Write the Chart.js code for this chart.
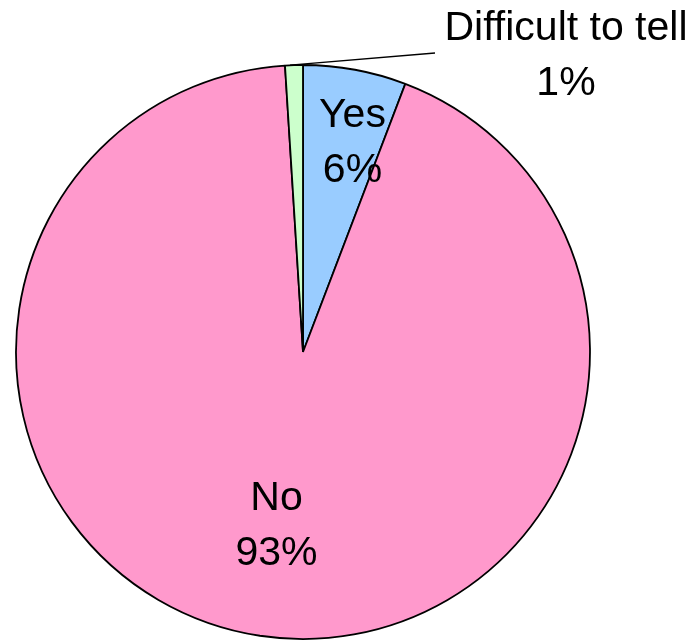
<!DOCTYPE html>
<html>
<head>
<meta charset="utf-8">
<script src="https://cdn.jsdelivr.net/npm/chart.js@4.4.0/dist/chart.umd.min.js"></script>
<style>
  html, body { margin: 0; padding: 0; background: #ffffff; }
  #wrap { width: 695px; height: 640px; position: relative; }
</style>
</head>
<body>
<div id="wrap"><canvas id="c" width="695" height="640"></canvas></div>
<script>
// ---- data ----
const categories = ["Yes", "No", "Difficult to tell"];
const shares = [5.8, 93.2, 1.0];
const percentLabels = ["6%", "93%", "1%"];
const sliceColors = ["#99CCFF", "#FF99CC", "#CCFFCC"];

// label placement (style, not data)
const labelPlacement = [
  { inside: true, frac: 0.74, dx: 11, dy: 0 },
  { inside: true, frac: 0.615, dx: 0, dy: 0 },
  { inside: false, lineEnd: [435, 53], textAt: [566, 56] }
];

const pieLabels = {
  id: 'pieLabels',
  afterDatasetsDraw(chart) {
    const ctx = chart.ctx;
    const meta = chart.getDatasetMeta(0);
    ctx.save();
    ctx.font = '41px "Liberation Sans", Arial, sans-serif';
    ctx.fillStyle = '#000000';
    ctx.textAlign = 'center';
    ctx.textBaseline = 'middle';
    const lineGap = 55;
    meta.data.forEach((arc, i) => {
      const p = arc.getProps(['x', 'y', 'startAngle', 'endAngle', 'outerRadius'], true);
      const mid = (p.startAngle + p.endAngle) / 2;
      const cfg = labelPlacement[i];
      let cx, cy;
      if (cfg.inside) {
        cx = p.x + Math.cos(mid) * p.outerRadius * cfg.frac + cfg.dx;
        cy = p.y + Math.sin(mid) * p.outerRadius * cfg.frac + cfg.dy;
      } else {
        const ax = p.x + Math.cos(mid) * p.outerRadius;
        const ay = p.y + Math.sin(mid) * p.outerRadius;
        ctx.beginPath();
        ctx.strokeStyle = '#000000';
        ctx.lineWidth = 1.3;
        ctx.moveTo(ax - 4, ay);
        ctx.lineTo(cfg.lineEnd[0], cfg.lineEnd[1]);
        ctx.stroke();
        cx = cfg.textAt[0];
        cy = cfg.textAt[1];
      }
      ctx.fillText(categories[i], cx, cy - lineGap / 2);
      ctx.fillText(percentLabels[i], cx, cy + lineGap / 2);
    });
    ctx.restore();
  }
};

new Chart(document.getElementById('c'), {
  type: 'pie',
  data: {
    labels: categories,
    datasets: [{
      data: shares,
      backgroundColor: sliceColors,
      borderColor: '#000000',
      borderWidth: 1.8,
      radius: 287,
      clip: false
    }]
  },
  options: {
    responsive: false,
    animation: false,
    rotation: 0,
    layout: { padding: { left: 0, right: 89, top: 64, bottom: 0 } },
    plugins: {
      legend: { display: false },
      tooltip: { enabled: false }
    }
  },
  plugins: [pieLabels]
});
</script>
</body>
</html>
